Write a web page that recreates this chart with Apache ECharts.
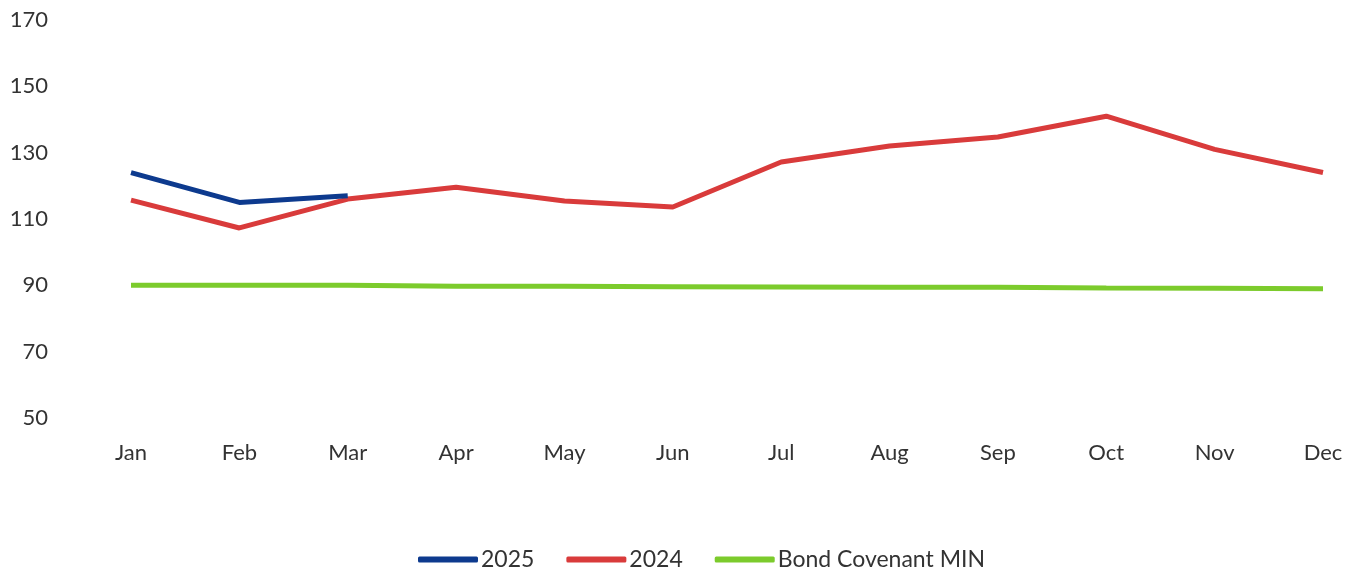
<!DOCTYPE html>
<html><head><meta charset="utf-8">
<script src="https://cdn.jsdelivr.net/npm/echarts@6/dist/echarts.min.js"></script>
<style>html,body{margin:0;padding:0;background:#fff}#c{width:1349px;height:574px}</style>
</head><body><div id="c"></div>
<script>
const months = ['Jan','Feb','Mar','Apr','May','Jun','Jul','Aug','Sep','Oct','Nov','Dec'];
const s2025 = [124, 115, 117];
const s2024 = [115.7, 107.3, 116, 119.6, 115.4, 113.6, 127.2, 132, 134.7, 141, 131, 124];
const covenant = [90, 90, 90, 89.7, 89.7, 89.6, 89.5, 89.4, 89.4, 89.2, 89.1, 89];
const yTicks = {min: 50, max: 170, interval: 20};

const font = 'Lato, "Open Sans", sans-serif';
const chart = echarts.init(document.getElementById('c'));
chart.setOption({
  animation: false,
  backgroundColor: '#fff',
  grid: {left: 131, right: 26, top: 20, bottom: 156},
  legend: {
    top: 543, left: 413,
    itemWidth: 60, itemHeight: 6, itemGap: 32,
    icon: 'roundRect',
    textStyle: {fontFamily: font, fontSize: 23, color: '#333', padding: [0,0,0,-2]},
    data: ['2025', '2024', 'Bond Covenant MIN']
  },
  xAxis: {
    type: 'category', data: months, boundaryGap: false,
    axisLine: {show: false}, axisTick: {show: false}, splitLine: {show: false},
    axisLabel: {fontFamily: font, fontSize: 22, color: '#333', margin: 24}
  },
  yAxis: {
    type: 'value', min: yTicks.min, max: yTicks.max, interval: yTicks.interval,
    axisLine: {show: false}, axisTick: {show: false}, splitLine: {show: false},
    axisLabel: {fontFamily: font, fontSize: 22, color: '#333', margin: 83}
  },
  series: [
    {name: '2025', type: 'line', data: s2025, symbol: 'none', color: '#0d3a8e', lineStyle: {width: 5, color: '#0d3a8e'}, z: 3},
    {name: '2024', type: 'line', data: s2024, symbol: 'none', color: '#d93b3b', lineStyle: {width: 5, color: '#d93b3b'}, z: 2},
    {name: 'Bond Covenant MIN', type: 'line', data: covenant, symbol: 'none', color: '#7ccb2c', lineStyle: {width: 5, color: '#7ccb2c'}, z: 1}
  ]
});
</script></body></html>
